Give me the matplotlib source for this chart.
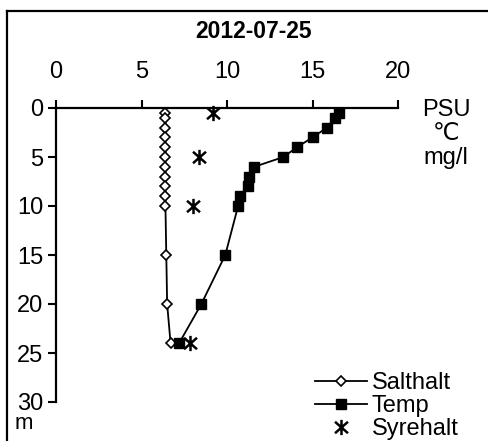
import matplotlib
matplotlib.use("Agg")
import matplotlib.pyplot as plt
from matplotlib.path import Path
from matplotlib.lines import Line2D

plt.rcParams['font.family'] = ['Liberation Sans', 'DejaVu Sans']

title = "2012-07-25"
sal_depth = [0.5, 1, 2, 3, 4, 5, 6, 7, 8, 9, 10, 15, 20, 24]
sal_vals = [6.4, 6.4, 6.4, 6.4, 6.4, 6.4, 6.4, 6.4, 6.4, 6.4, 6.4, 6.45, 6.5, 6.7]
temp_depth = [0.5, 1, 2, 3, 4, 5, 6, 7, 8, 9, 10, 15, 20, 24]
temp_vals = [16.55, 16.3, 15.85, 15.0, 14.1, 13.3, 11.6, 11.3, 11.2, 10.75, 10.65, 9.9, 8.5, 7.2]
oxy_depth = [0.5, 5, 10, 24]
oxy_vals = [9.2, 8.35, 8.0, 7.85]
xticks = [0, 5, 10, 15, 20]
yticks = [0, 5, 10, 15, 20, 25, 30]
labels = ["Salthalt", "Temp", "Syrehalt"]
units = ["PSU", "\u2103", "mg/l"]

W, H = 488, 441
FS = 17
fig = plt.figure(figsize=(W/100, H/100), dpi=100)

def fx(px): return px / W
def fy(py): return 1 - py / H

ax = fig.add_axes([fx(56), fy(402), fx(398) - fx(56), fy(108) - fy(402)])

star = Path([(0, -1), (0, 1), (-0.85, -0.75), (0.85, 0.75), (-0.85, 0.75), (0.85, -0.75)],
            [Path.MOVETO, Path.LINETO, Path.MOVETO, Path.LINETO, Path.MOVETO, Path.LINETO])

ax.plot(sal_vals, sal_depth, color='black', lw=1.3, marker='D', ms=5.5,
        mfc='white', mec='black', mew=1.2, label=labels[0], clip_on=False, zorder=3)
ax.plot(temp_vals, temp_depth, color='black', lw=1.3, marker='s', ms=7.5,
        mfc='black', mec='black', label=labels[1], clip_on=False, zorder=3)
ax.plot(oxy_vals, oxy_depth, ls='none', marker=star, ms=11, mew=1.8,
        mec='black', color='black', label=labels[2], clip_on=False, zorder=4)

ax.set_xlim(0, 20)
ax.set_ylim(30, 0)
ax.xaxis.tick_top()
ax.set_xticks(xticks)
ax.set_yticks(yticks)
for s in ['right', 'bottom']:
    ax.spines[s].set_visible(False)
for s in ['left', 'top']:
    ax.spines[s].set_linewidth(1.6)
ax.tick_params(axis='both', direction='out', length=6, width=1.5, labelsize=FS)
ax.tick_params(axis='y', pad=3)
ax.tick_params(axis='x', pad=12)
ax.patch.set_alpha(0)

fig.text(fx(253), fy(31), title, ha='center', va='center', fontsize=16.5, fontweight='bold')
for u, py in zip(units, [110, 134, 158]):
    fig.text(fx(446), fy(py), u, ha='center', va='center', fontsize=FS)
fig.text(fx(24), fy(429), "m", ha='center', va='baseline', fontsize=16)

leg = ax.legend(loc='upper left', bbox_to_anchor=(fx(315), fy(372)),
                bbox_transform=fig.transFigure, frameon=False, fontsize=FS,
                handlelength=2.2, handletextpad=0.2, labelspacing=0.05, borderpad=0,
                borderaxespad=0)

fig.add_artist(Line2D([fx(7), fx(7)], [fy(11), 0], color='black', lw=1.6,
                      transform=fig.transFigure))
fig.add_artist(Line2D([fx(7), 1], [fy(11), fy(11)], color='black', lw=1.6,
                      transform=fig.transFigure))

fig.savefig("out.png", dpi=100)
